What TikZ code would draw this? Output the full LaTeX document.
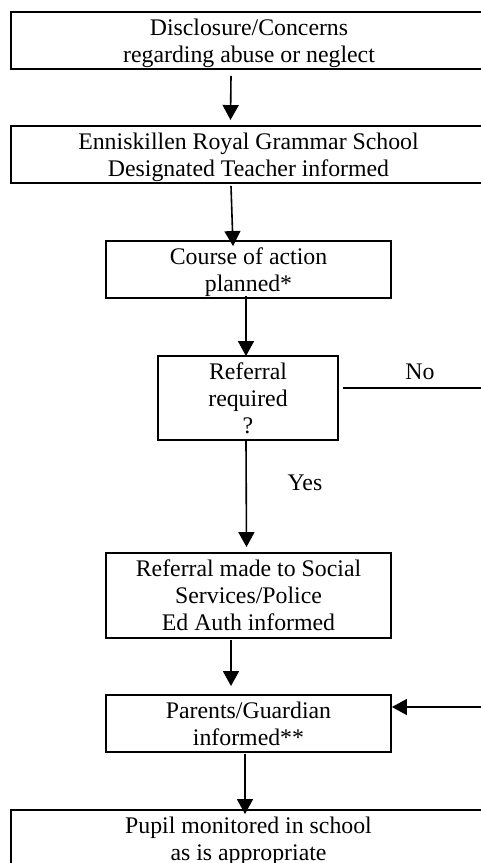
\documentclass[tikz,border=0pt]{standalone}
\usepackage{fontspec}
\setmainfont{Liberation Serif}
\usetikzlibrary{arrows.meta,calc}
\newcommand{\nodep}[1]{\raisebox{0pt}[\height][0pt]{#1}}
\begin{document}
\begin{tikzpicture}[x=1pt,y=-1pt,
  box/.style={draw, line width=1.9pt, inner sep=0pt, align=center,
    font=\fontsize{23.8}{27}\selectfont},
  lbl/.style={inner sep=0pt, font=\fontsize{23.8}{27}\selectfont},
  arr/.style={line width=1.6pt, -{Triangle[width=16pt,length=15pt]}},
  ln/.style={line width=1.6pt}]
\useasboundingbox (0,0) rectangle (481,863);
\fill[white] (0,0) rectangle (481,863);
\clip (0,0) rectangle (481,863);
\node[box, minimum width=476pt, minimum height=57pt] (b1) at (249,40.5) {Disclosure/Concerns\\\nodep{regarding abuse or neglect}};
\node[box, minimum width=475pt, minimum height=57pt] (b2) at (248.5,154.5) {Enniskillen Royal Grammar School\\\nodep{Designated Teacher informed}};
\node[box, minimum width=285pt, minimum height=57pt] (b3) at (248.5,269.5) {Course of action\\\nodep{planned*}};
\node[box, minimum width=180pt, minimum height=84pt] (b4) at (248,398) {Referral\\required\\?};
\node[box, minimum width=285pt, minimum height=85pt] (b5) at (248.5,595.5) {Referral made to Social\\Services/Police\\Ed Auth informed};
\node[box, minimum width=285pt, minimum height=57pt] (b6) at (248.5,723.5) {Parents/Guardian\\informed**};
\node[box, minimum width=475pt, minimum height=58pt] (b7) at (248.5,839) {Pupil monitored in school\\\nodep{as is appropriate}};
\node[lbl] (nolab) at (420,372) {No};
\node[lbl] (yeslab) at (305,483) {Yes};
\coordinate (noend) at (490,388);
\coordinate (rin) at (490,707);
\draw[arr] ($(b1.south)+(-18,6)$) -- ($(b2.north)+(-18,-5)$);
\draw[arr] ($(b2.south)+(-17.5,2)$) -- ($(b3.north)+(-15.5,6)$);
\draw[arr] ($(b3.south)+(-2.5,-3)$) -- ($(b4.north)+(-2,1)$);
\draw[arr] ($(b4.south)+(-2,0)$) -- ($(b5.north)+(-2,-5)$);
\draw[arr] ($(b5.south)+(-17.5,1)$) -- ($(b6.north)+(-17.5,-8)$);
\draw[arr] ($(b6.south)+(-3.5,1)$) -- ($(b7.north)+(-3.5,5)$);
\draw[ln] ($(b4.east)+(4,-10)$) -- (noend);
\draw[arr] (rin) -- ($(b6.east)+(0,-16.5)$);
\end{tikzpicture}
\end{document}
